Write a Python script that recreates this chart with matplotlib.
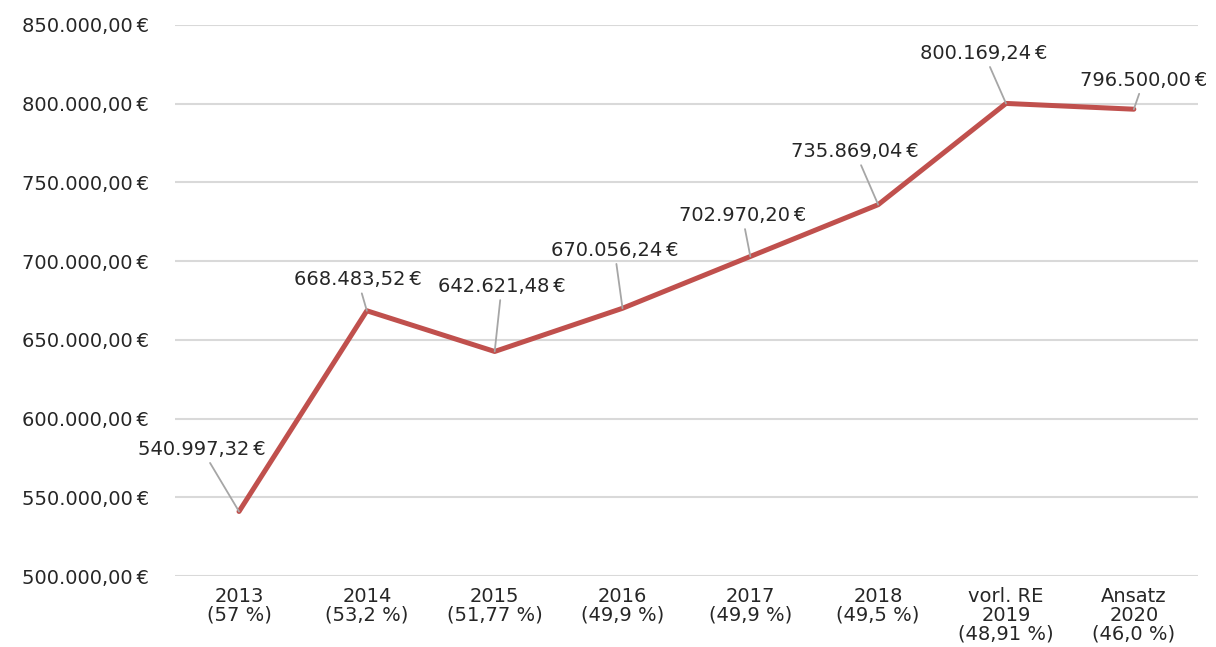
import matplotlib
matplotlib.use("Agg")
import matplotlib.pyplot as plt
from matplotlib.ticker import FuncFormatter

# Data
categories = ["2013\n(57 %)", "2014\n(53,2 %)", "2015\n(51,77 %)", "2016\n(49,9 %)",
              "2017\n(49,9 %)", "2018\n(49,5 %)", "vorl. RE\n2019\n(48,91 %)",
              "Ansatz\n2020\n(46,0 %)"]
values = [540997.32, 668483.52, 642621.48, 670056.24,
          702970.20, 735869.04, 800169.24, 796500.00]
y_ticks = [500000, 550000, 600000, 650000, 700000, 750000, 800000, 850000]

# label offsets in pixels (dx, dy) from each point
label_offsets = [(-37, 62), (-9, 31), (7, 65), (-8, 58),
                 (-8, 41), (-23, 53), (-22, 50), (10, 29)]


def euro(v):
    s = f"{v:,.2f}".replace(",", "X").replace(".", ",").replace("X", ".")
    return s + "\u2009€"


plt.rcParams["font.family"] = ["DejaVu Sans"]

fig = plt.figure(figsize=(12.16, 6.47), dpi=100)
ax = fig.add_axes([0.144, 0.1097, 0.841, 0.8517])

x = list(range(len(values)))
ax.plot(x, values, color="#C0504D", linewidth=3.6, solid_capstyle="round", zorder=3)

# value labels with grey leader lines
for xi, v, (dx, dy) in zip(x, values, label_offsets):
    ax.annotate(euro(v), xy=(xi, v), xytext=(dx, dy), textcoords="offset pixels",
                ha="center", va="center", fontsize=14, color="#262626",
                arrowprops=dict(arrowstyle="-", color="#A6A6A6", lw=1.3,
                                shrinkA=1, shrinkB=0))

ax.set_xlim(-0.5, len(values) - 0.5)
ax.set_ylim(500000, 850000)
ax.set_yticks(y_ticks)
ax.yaxis.set_major_formatter(FuncFormatter(lambda v, p: euro(v)))
ax.set_xticks(x)
ax.set_xticklabels(categories, fontsize=14, color="#262626", linespacing=0.98)
ax.tick_params(axis="y", labelsize=14, labelcolor="#262626", length=0, pad=19)
ax.tick_params(axis="x", length=0, pad=8)

ax.grid(axis="y", color="#D9D9D9", linewidth=1.5)
ax.set_axisbelow(True)
for s in ax.spines.values():
    s.set_visible(False)

fig.savefig("out.png", dpi=100)
